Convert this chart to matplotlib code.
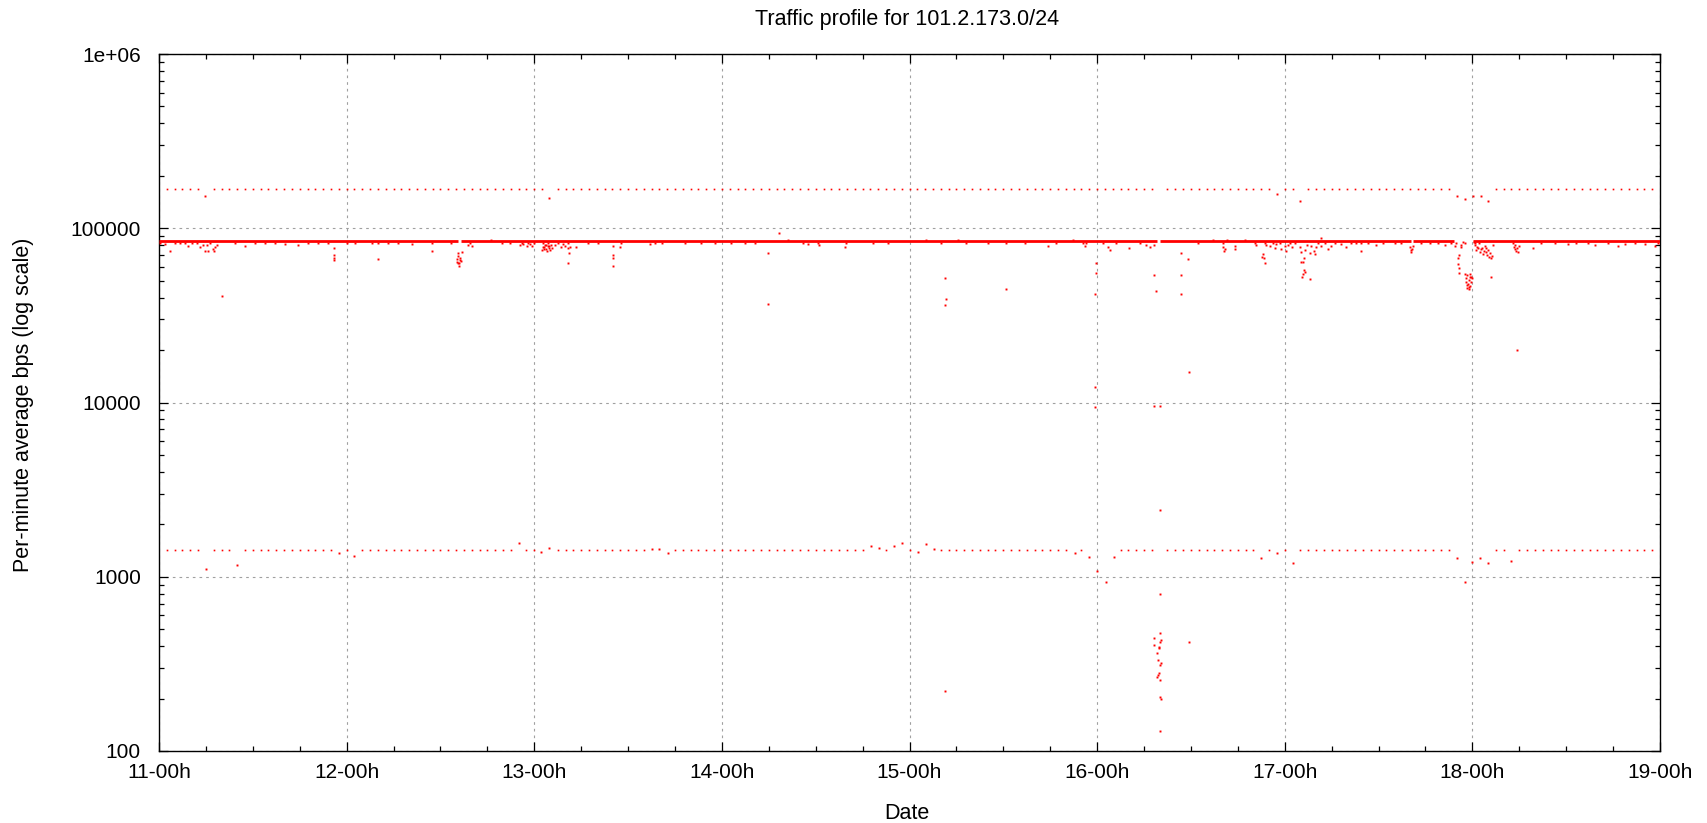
import matplotlib
matplotlib.use("Agg")
import matplotlib.pyplot as plt
from matplotlib.ticker import LogLocator, NullFormatter

plt.rcParams["font.family"] = ["Liberation Sans", "DejaVu Sans"]
plt.rcParams["font.size"] = 15

# x axis is hours since 11-00h
day_labels = ["11-00h", "12-00h", "13-00h", "14-00h", "15-00h",
              "16-00h", "17-00h", "18-00h", "19-00h"]
ytick_values = [100, 1000, 10000, 100000, 1000000]
ytick_labels = ["100", "1000", "10000", "100000", "1e+06"]

# main traffic level, continuous apart from a few short outages
band_level = 84000
band_segments = [(0, 38.2), (38.6, 127.7), (128.1, 160.2), (160.4, 165.6), (168.1, 192)]

# hourly samples at the upper level (runs of consecutive hours)
upper_level = 168000
upper_runs = [(1, 5), (7, 49), (51, 127), (129, 142), (144, 145), (147, 165), (171, 191)]
upper_off = [(5.9, 153000), (49.9, 150000), (143, 158000), (146, 143000), (166, 153000),
             (167.1, 147000), (168.1, 153000), (169.1, 153000), (170, 143000)]

# hourly samples at the lower level
lower_level = 1430
lower_runs = [(1, 5), (7, 9), (11, 22), (24, 24), (26, 45), (47, 48), (51, 62), (66, 90),
              (93, 93), (96, 96), (100, 116), (118, 118), (123, 127), (129, 140), (142, 142),
              (144, 144), (146, 165), (171, 172), (174, 191)]
lower_off = [(6.0, 1107), (10.0, 1167), (23.0, 1374), (25.0, 1315), (46.1, 1555), (48.9, 1387),
             (49.9, 1468), (63.0, 1450), (64.0, 1450), (65.1, 1374), (91.1, 1500), (92.1, 1468),
             (94.0, 1500), (95.1, 1555), (97.1, 1387), (98.1, 1535), (99.1, 1449), (117.2, 1374),
             (119.0, 1297), (120.0, 1074), (121.1, 929), (122.1, 1297), (141.0, 1276), (143.0, 1374),
             (145.0, 1193), (166.0, 1276), (167.0, 929), (168.0, 1221), (169.0, 1276), (170.0, 1193),
             (173.0, 1230)]

# minutes off the main band, per day
dips_day11 = [(0.13, 81900), (0.77, 80800), (1.41, 74000), (2.05, 82600), (2.69, 81900), (3.33, 81900),
              (3.75, 79400), (4.18, 81900), (4.82, 82600), (5.24, 78400), (5.67, 80150), (5.88, 74000),
              (6.10, 80150), (6.31, 74000), (6.52, 81900), (6.95, 76000), (7.08, 74000), (7.16, 78400),
              (7.38, 80150), (8.02, 41000), (9.72, 81900), (11.0, 79400), (12.28, 82600), (13.56, 81900),
              (14.84, 82600), (16.11, 80800), (17.82, 80150), (19.1, 82600), (20.38, 81900),
              (21.65, 81900), (22.38, 77400), (22.38, 70200), (22.38, 67200), (22.38, 65400)]
dips_day12 = [(24.0, 81900), (25.07, 82600), (27.2, 81900), (27.96, 66600), (28.05, 81900), (29.33, 82600),
              (30.6, 81900), (32.31, 80800), (34.87, 81900), (34.95, 74000), (37.34, 81900), (38.06, 63700),
              (38.15, 66600), (38.19, 71800), (38.28, 62900), (38.3, 69600), (38.36, 61000), (38.4, 63100),
              (38.45, 67800), (38.49, 65700), (38.62, 64800), (38.70, 72700), (39.55, 80150), (39.77, 81900),
              (39.98, 79400), (42.45, 85600), (43.82, 81900), (44.88, 81900), (46.16, 80150), (46.38, 81900),
              (46.59, 80800), (47.01, 79400), (47.23, 81900), (47.44, 80800), (47.74, 79400), (47.99, 81900)]
dips_day13 = [(49.02, 75000), (49.15, 81900), (49.27, 78400), (49.36, 80150), (49.44, 76000), (49.57, 74000),
              (49.70, 79400), (49.78, 81900), (49.87, 77400), (49.99, 75000), (50.13, 80150), (50.21, 76700),
              (49.1, 78400), (49.5, 80150), (49.9, 79400), (49.3, 76000), (50.64, 80150), (51.06, 81900),
              (51.40, 78400), (51.70, 80800), (51.90, 79400), (52.26, 81900), (52.34, 76700), (52.43, 71800),
              (52.56, 78400), (52.26, 63100), (53.28, 78400), (54.9, 81900), (56.18, 81900), (58.1, 79400),
              (58.1, 70200), (58.1, 67200), (58.1, 61000), (58.95, 78400), (59.16, 81900), (62.79, 80800),
              (63.43, 81900), (64.28, 81900), (67.26, 81900), (69.39, 81900), (71.1, 81900)]
dips_day14 = [(73.23, 81900), (74.93, 81900), (76.21, 81900), (77.91, 71800), (77.91, 36900), (79.32, 93500),
              (80.47, 85600), (82.39, 81900), (83.03, 80800), (84.31, 81900), (84.44, 80150), (87.8, 78400),
              (87.93, 81900), (91.34, 81900), (93.26, 81900)]
dips_day15 = [(98.16, 85600), (100.08, 81900), (100.59, 51600), (100.72, 39250), (100.59, 36100),
              (102.21, 85600), (103.28, 81900), (106.05, 81900), (108.39, 44600), (108.39, 81900),
              (110.74, 81900), (113.72, 79400), (114.79, 81900), (116.92, 85600), (118.2, 81900),
              (118.42, 79400), (118.63, 81900), (119.7, 41800), (119.91, 62900), (119.91, 55100)]
dips_day16 = [(120.76, 81900), (121.4, 78400), (121.61, 75000), (122.47, 81900), (124.04, 77400),
              (125.45, 81900), (126.3, 80150), (126.73, 78400), (127.28, 80150), (127.28, 53900),
              (127.58, 43600), (130.78, 71800), (130.78, 53900), (130.78, 41800), (131.63, 66600),
              (132.91, 81900), (134.83, 85600), (136.11, 81900), (136.11, 78400), (136.23, 74000),
              (136.32, 76000), (136.66, 85600), (137.6, 79400), (137.68, 76000), (138.88, 85600),
              (140.16, 81900), (140.37, 80150), (141.09, 68700), (141.22, 70850), (141.35, 67200),
              (141.43, 62900), (141.43, 81900), (141.65, 80150), (142.07, 79400), (142.5, 81900),
              (142.71, 76700), (142.93, 80800), (143.35, 81900), (143.57, 76000)]
dips_day17 = [(144.0, 79400), (144.2, 74000), (144.42, 80150), (144.63, 81900), (144.93, 78400),
              (145.27, 81900), (145.91, 78400), (146.04, 72700), (146.12, 63700), (146.21, 52700),
              (146.34, 54400), (146.34, 64300), (146.46, 67200), (146.46, 57600), (146.55, 56300),
              (146.64, 75000), (146.89, 80150), (147.19, 71800), (147.19, 51150), (147.4, 79400),
              (147.74, 74000), (147.83, 70850), (148.04, 78400), (148.25, 81900), (148.6, 87500),
              (148.68, 79400), (149.11, 81900), (149.53, 76000), (149.96, 79400), (150.39, 81900),
              (151.24, 80800), (151.88, 78400), (152.52, 81900), (153.16, 81900), (153.79, 81900),
              (153.79, 74000), (154.65, 81900), (155.71, 80150), (156.56, 81900), (158.05, 81900),
              (158.91, 81900), (159.97, 78400), (160.1, 75000), (160.19, 72700), (160.27, 76000),
              (160.4, 79400), (161.47, 81900), (162.53, 81900), (163.6, 81900), (164.45, 80150),
              (165.3, 81900), (165.73, 79400), (165.94, 81900), (166.15, 67200), (166.15, 62000),
              (166.24, 70200), (166.24, 58900), (166.24, 55100), (166.5, 78400), (166.58, 80150),
              (166.79, 83750), (167.0, 81900), (167.09, 54400), (167.13, 49000), (167.22, 51600),
              (167.26, 47200), (167.31, 45600), (167.35, 53900), (167.43, 47700), (167.52, 50500),
              (167.52, 46000), (167.6, 44600), (167.65, 54400), (167.69, 46600), (167.73, 52700),
              (167.77, 49400), (167.86, 52700), (167.9, 51600)]
dips_day18 = [(168.2, 83750), (168.29, 81900), (168.37, 80150), (168.5, 75000), (168.63, 78400),
              (168.71, 77400), (168.8, 81900), (168.92, 72700), (169.05, 76000), (169.27, 77400),
              (169.35, 70850), (169.48, 74000), (169.56, 79400), (169.69, 72700), (169.78, 76700),
              (169.9, 70200), (169.99, 75000), (170.12, 68700), (170.2, 71800), (170.33, 67200),
              (170.42, 52300), (170.5, 69600), (170.63, 80150), (173.19, 81900), (173.31, 78400),
              (173.4, 80150), (173.49, 76000), (173.61, 74000), (173.7, 20000), (173.74, 77400),
              (173.83, 72700), (173.91, 79400), (175.74, 77400), (176.81, 81900), (178.51, 81900),
              (180.22, 80800), (181.29, 81900), (182.78, 81900), (183.63, 80150), (185.34, 81900),
              (186.61, 79400), (187.47, 80800), (188.75, 81900), (190.02, 80800), (191.3, 79400),
              (191.8, 81900)]

# isolated very low minutes
deep_points = [(100.6, 220), (119.7, 12300), (119.7, 9400), (127.3, 9550), (128.1, 9550), (128.0, 2420),
               (128.0, 793), (128.0, 477), (127.3, 447), (128.2, 434), (128.0, 424), (127.3, 406),
               (127.9, 397), (127.9, 388), (127.6, 367), (127.8, 333), (128.2, 321), (128.0, 312),
               (127.9, 279), (127.8, 273), (127.6, 267), (128.0, 256), (128.1, 205), (128.2, 198),
               (128.0, 130), (131.7, 15000), (131.75, 424)]


fig = plt.figure(figsize=(17.07, 8.23), dpi=100)
ax = fig.add_axes([159 / 1707, 1 - 751 / 823, 1501 / 1707, 697 / 823])

red = "#ff0000"

# main band
for start, end in band_segments:
    ax.plot([start, end], [band_level, band_level], color=red, lw=2.0,
            solid_capstyle="butt", zorder=3)

# hourly rows
upper_h = [h for a, b in upper_runs for h in range(a, b + 1)]
lower_h = [h for a, b in lower_runs for h in range(a, b + 1)]
ax.plot(upper_h, [upper_level] * len(upper_h), ls="none", marker="s", ms=1.2, mew=0, color=red, zorder=3)
ax.plot(lower_h, [lower_level] * len(lower_h), ls="none", marker="s", ms=1.2, mew=0, color=red, zorder=3)

# single minutes
points = (upper_off + lower_off + dips_day11 + dips_day12 + dips_day13 + dips_day14
          + dips_day15 + dips_day16 + dips_day17 + dips_day18 + deep_points)
ax.plot([p[0] for p in points], [p[1] for p in points], ls="none", marker="s",
        ms=1.4, mew=0, color=red, zorder=3)

ax.set_yscale("log")
ax.set_xlim(0, 192)
ax.set_ylim(100, 1e6)

ax.set_xticks(range(0, 193, 24))
ax.set_xticklabels(day_labels)
ax.set_xticks(range(0, 193, 6), minor=True)
ax.set_yticks(ytick_values)
ax.set_yticklabels(ytick_labels)
ax.yaxis.set_minor_locator(LogLocator(base=10, subs=range(2, 10)))
ax.yaxis.set_minor_formatter(NullFormatter())

ax.tick_params(which="both", direction="in", top=True, right=True, width=0.9, color="black")
ax.tick_params(which="major", length=6.5)
ax.tick_params(which="minor", length=3.3)
ax.tick_params(axis="x", which="major", pad=9)
ax.tick_params(axis="y", which="major", pad=13)

ax.grid(True, which="major", color="#a0a0a0", lw=0.8, ls=(0, (2.4, 3.6)))
ax.set_axisbelow(True)
for s in ax.spines.values():
    s.set_linewidth(1.0)
    s.set_color("black")

fig.text(907 / 1707, 1 - 25 / 823, "Traffic profile for 101.2.173.0/24", ha="center",
         va="baseline", fontsize=15.5)
fig.text(907 / 1707, 1 - 819 / 823, "Date", ha="center", va="baseline", fontsize=15.5)
fig.text(23.8 / 1707, 1 - 405 / 823, "Per-minute average bps (log scale)", rotation=90,
         ha="center", va="center", fontsize=15.5)

fig.savefig("out.png", dpi=100)
